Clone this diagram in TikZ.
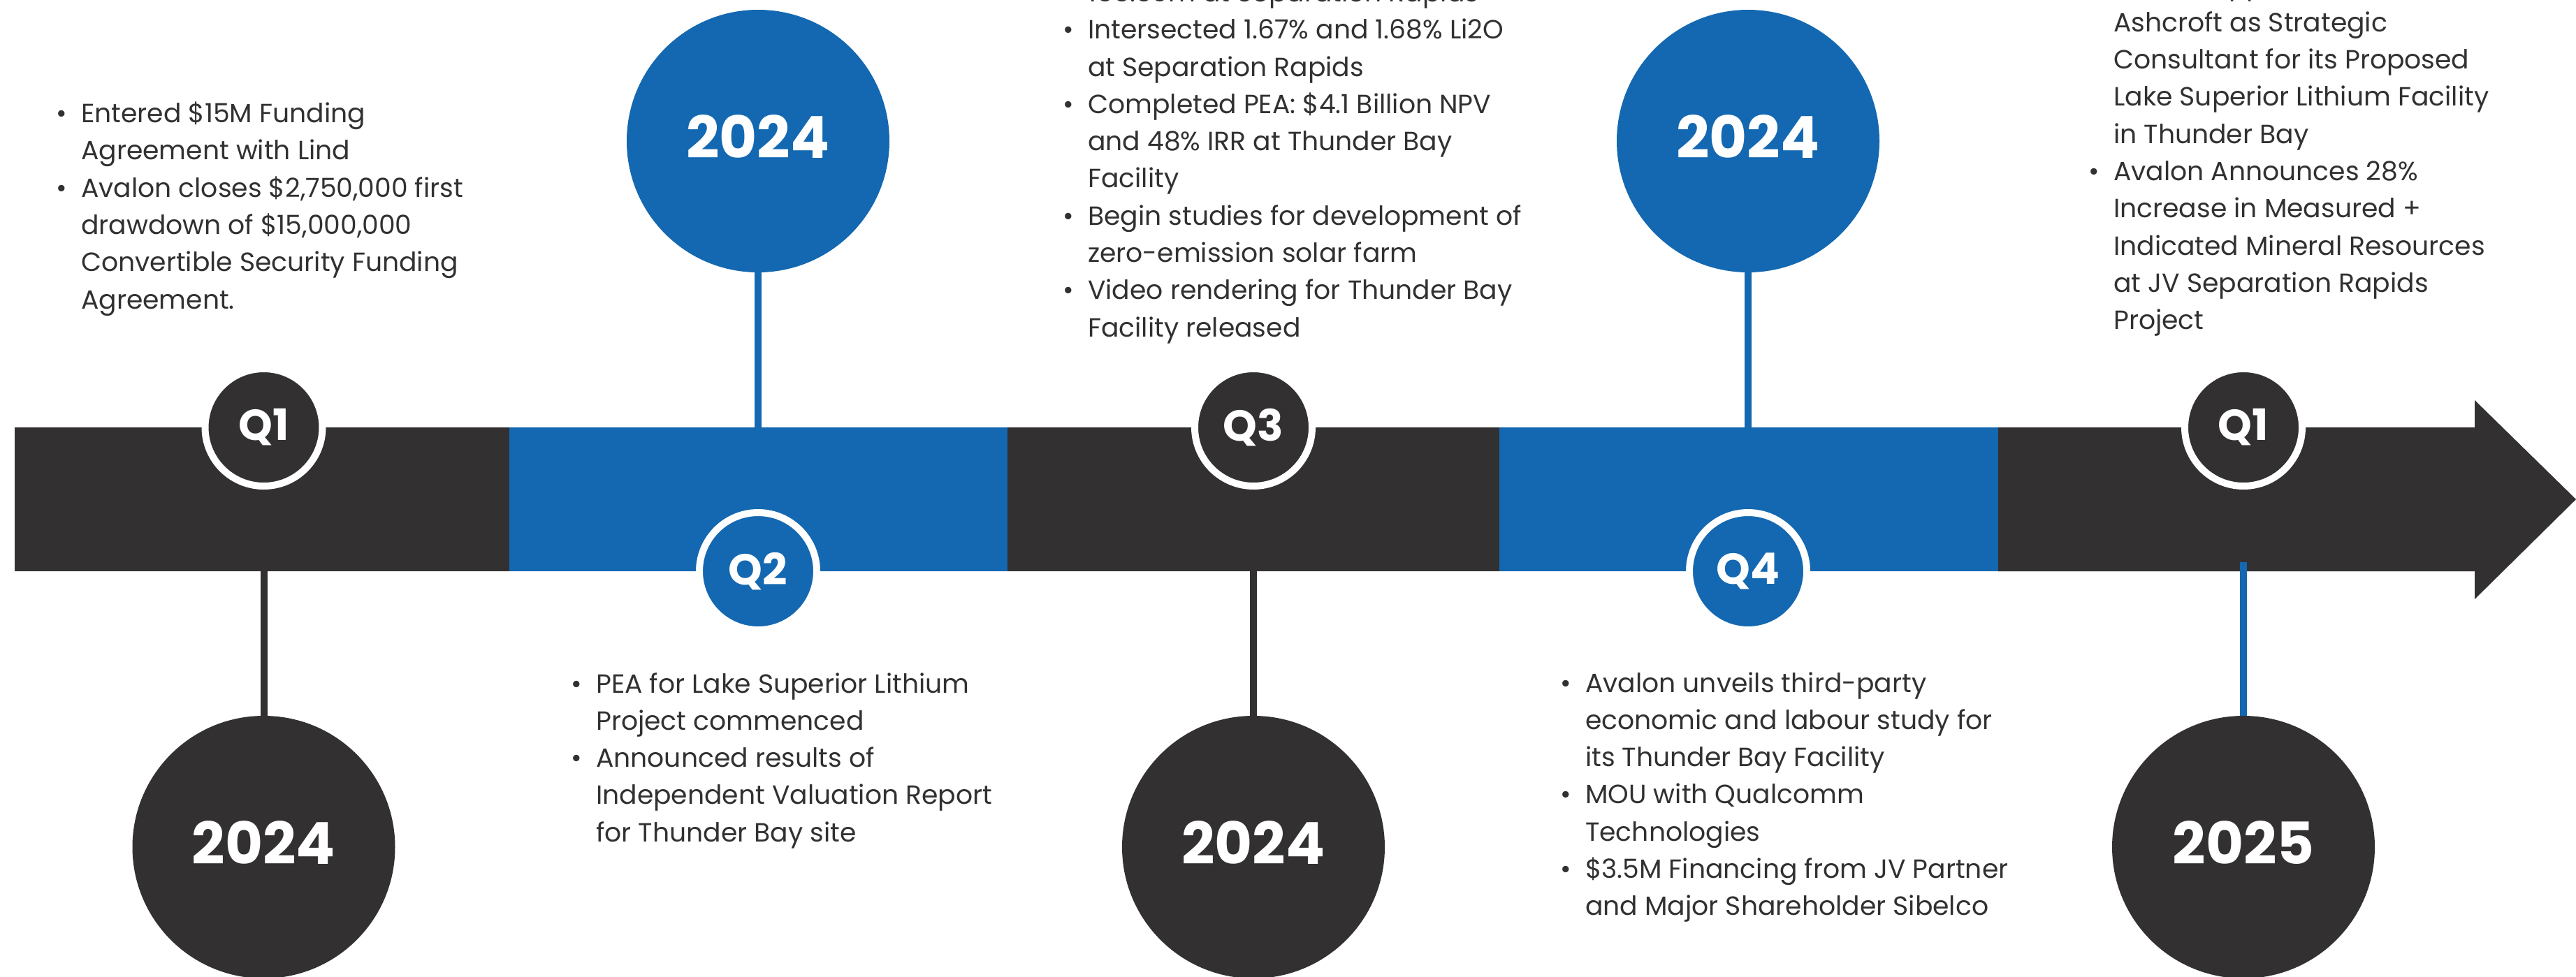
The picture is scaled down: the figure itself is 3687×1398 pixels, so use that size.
\documentclass[tikz,border=0pt]{standalone}
\usepackage{fontspec}
\setmainfont{Poppins}
\definecolor{ink}{RGB}{50,48,49}
\definecolor{brand}{RGB}{19,104,177}
\pgfdeclarelayer{background}
\pgfsetlayers{background,main}
\newcommand\itm{\llap{•\hspace{20pt}}}
\begin{document}
\begin{tikzpicture}[x=1pt,y=-1pt,
  yearball/.style={circle,minimum size=376pt,inner sep=0pt,text=white,
    font=\fontsize{83}{83}\selectfont\bfseries},
  qball/.style={circle,minimum size=168pt,inner sep=0pt,draw=white,line width=10pt,
    text=white,font=\fontsize{62}{62}\selectfont\bfseries},
  link/.style={line width=10pt},
  % notes are anchored at the baseline of their last line
  notes/.style={anchor=base west,inner sep=0pt,align=left,text=ink,
    font=\fontsize{37.7}{53.3}\selectfont},
]
\useasboundingbox (0,0) rectangle (3687,1398);
\clip (0,0) rectangle (3687,1398);

% quarter markers on the bar
\node[qball,fill=ink]   (q1) at (377.5,612) {Q1};
\node[qball,fill=brand] (q2) at (1085,818)  {Q2};
\node[qball,fill=ink]   (q3) at (1794,612)  {Q3};
\node[qball,fill=brand] (q4) at (2502,818)  {Q4};
\node[qball,fill=ink]   (q5) at (3211,612)  {Q1};

% year discs
\node[yearball,fill=ink]   (y1) at (377.5,1213) {\raisebox{12pt}{2024}};
\node[yearball,fill=brand] (y2) at (1085,202)   {\raisebox{13pt}{2024}};
\node[yearball,fill=ink]   (y3) at (1794,1213)  {\raisebox{12pt}{2024}};
\node[yearball,fill=brand] (y4) at (2502,202)   {\raisebox{13pt}{2024}};
\node[yearball,fill=ink]   (y5) at (3211,1213)  {\raisebox{12pt}{2025}};

\coordinate (c5) at (3211,805);

\begin{pgfonlayer}{background}
  % stems between markers and year discs
  \draw[link,ink]   (q1.center) -- (y1.north);
  \draw[link,brand] (y2.south) -- (q2.center);
  \draw[link,ink]   (q3.center) -- (y3.north);
  \draw[link,brand] (y4.south) -- (q4.center);
  % timeline bar
  \fill[ink]   (21,612)   rectangle (729,818);
  \fill[brand] (729,612)  rectangle (1442,818);
  \fill[ink]   (1442,612) rectangle (2146,818);
  \fill[brand] (2146,612) rectangle (2860,818);
  \fill[ink]   (2860,612) -- (3542,612) -- (3542,573) -- (3687,715)
               -- (3542,858) -- (3542,818) -- (2860,818) -- cycle;
  \draw[link,brand] (c5) -- (y5.north);
\end{pgfonlayer}

% event notes
\node[notes] (n1) at (116,442.1) {\itm Entered \$15M Funding\\
Agreement with Lind\\
\itm Avalon closes \$2,750,000 first\\
drawdown of \$15,000,000\\
Convertible Security Funding\\
Agreement.};

\node[notes] (n2) at (853,1205.2) {\itm PEA for Lake Superior Lithium\\
Project commenced\\
\itm Announced results of\\
Independent Valuation Report\\
for Thunder Bay site};

\node[notes] (n3) at (1557,482.1) {166.50m at Separation Rapids\\
\itm Intersected 1.67\% and 1.68\% Li2O\\
at Separation Rapids\\
\itm Completed PEA: \$4.1 Billion NPV\\
and 48\% IRR at Thunder Bay\\
Facility\\
\itm Begin studies for development of\\
zero-emission solar farm\\
\itm Video rendering for Thunder Bay\\
Facility released};

\node[notes] (n4) at (2269,1310.8) {\itm Avalon unveils third-party\\
economic and labour study for\\
its Thunder Bay Facility\\
\itm MOU with Qualcomm\\
Technologies\\
\itm \$3.5M Financing from JV Partner\\
and Major Shareholder Sibelco};

\node[notes] (n5) at (3025,471.7) {\itm Avalon Appoints\\
Ashcroft as Strategic\\
Consultant for its Proposed\\
Lake Superior Lithium Facility\\
in Thunder Bay\\
\itm Avalon Announces 28\%\\
Increase in Measured +\\
Indicated Mineral Resources\\
at JV Separation Rapids\\
Project};
\end{tikzpicture}
\end{document}
